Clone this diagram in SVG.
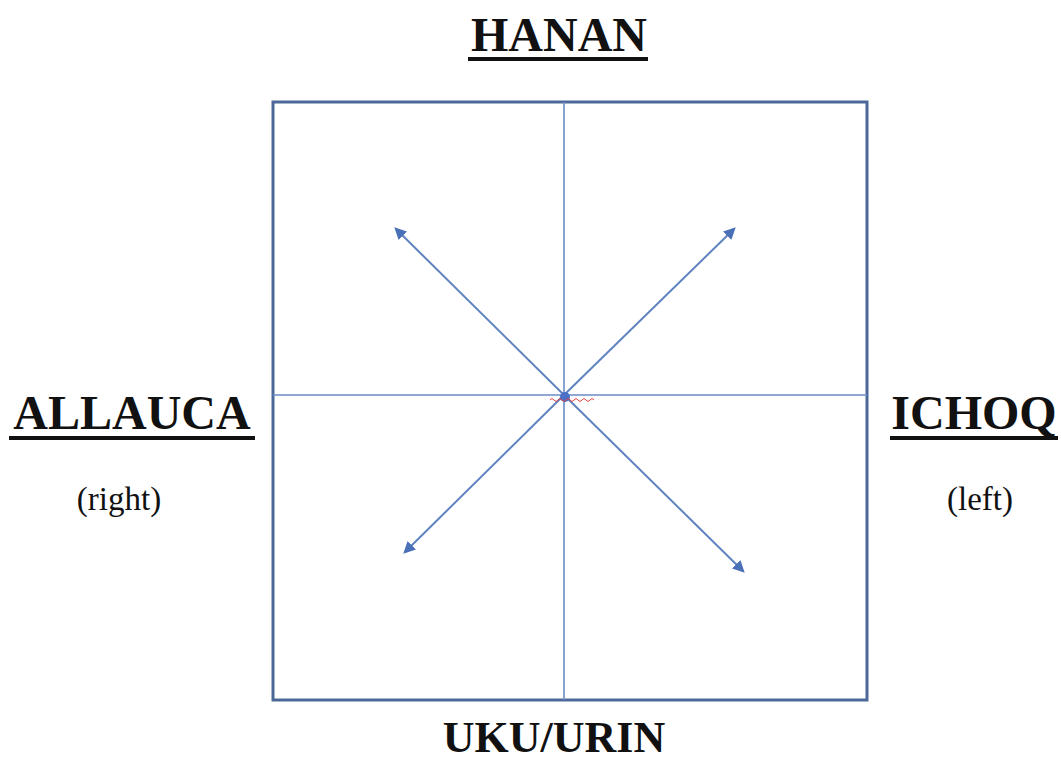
<svg xmlns="http://www.w3.org/2000/svg" width="1061" height="760" viewBox="0 0 1061 760">
<style>
.t{font-family:"Liberation Serif","Times New Roman",serif;fill:#111;text-anchor:middle}
.b{font-weight:bold;font-size:48px}
.s{font-size:33px}
.u{stroke:#111;stroke-width:4}
.ax{stroke:#6a8cc4;stroke-width:1.6;fill:none}
.ar{stroke:#5f83c0;stroke-width:2;fill:none;marker-end:url(#ah)}
</style>
<defs>
<marker id="ah" viewBox="0 0 10 10" refX="8" refY="5" markerWidth="6" markerHeight="6" orient="auto" markerUnits="strokeWidth">
<path d="M0,0 L10,5 L0,10 Z" fill="#4a70b8"/>
</marker>
</defs>
<rect width="1061" height="760" fill="#fff"/>
<g id="frame">
<rect x="273" y="102" width="594" height="598" fill="none" stroke="#4c6898" stroke-width="3"/>
</g>
<g id="connectors">
<line class="ax" x1="564" y1="102" x2="564" y2="700"/>
<line class="ax" x1="273" y1="395" x2="867" y2="395"/>
<line class="ar" x1="564" y1="395" x2="396" y2="229"/>
<line class="ar" x1="564" y1="395" x2="734" y2="229"/>
<line class="ar" x1="564" y1="395" x2="405" y2="552"/>
<line class="ar" x1="564" y1="395" x2="743" y2="571"/>
<circle cx="565" cy="397" r="5" fill="#4a70c8"/>
<path d="M550,400 q2,-3 4,0 t4,0 t4,0 t4,0 t4,0 t4,0 t4,0 t4,0 t4,0 t4,0 t4,0" fill="none" stroke="#e04040" stroke-width="1"/>
</g>
<g id="hanan">
<text class="t b" x="559" y="51">HANAN</text>
<line class="u" x1="468" y1="59" x2="648" y2="59"/>
</g>
<g id="allauca">
<text class="t b" x="132" y="429">ALLAUCA</text>
<line class="u" x1="9" y1="438" x2="255" y2="438"/>
<text class="t s" x="119" y="510">(right)</text>
</g>
<g id="ichoq">
<text class="t b" x="974" y="429">ICHOQ</text>
<line class="u" x1="890" y1="438" x2="1058" y2="438"/>
<text class="t s" x="980" y="510">(left)</text>
</g>
<g id="ukuurin">
<text class="t b" x="554" y="752" style="font-size:44px">UKU/URIN</text>
</g>
</svg>
